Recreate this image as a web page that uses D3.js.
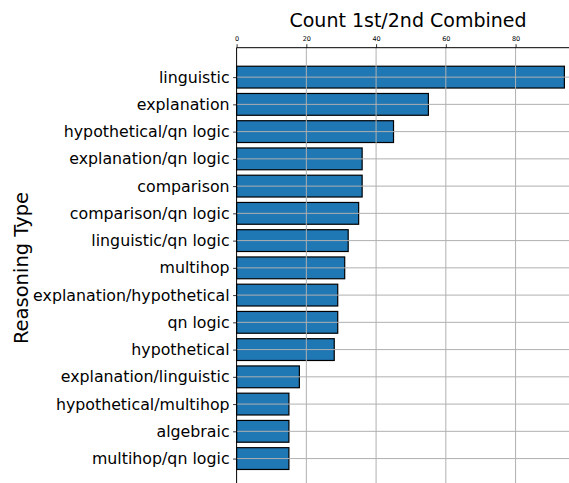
<!DOCTYPE html>
<html><head><meta charset="utf-8">
<script src="https://cdn.jsdelivr.net/npm/d3@7"></script>
<style>body{margin:0;background:#fff;} svg{display:block;font-family:"DejaVu Sans",sans-serif;}</style>
</head><body>
<script>
const categories = ["linguistic","explanation","hypothetical/qn logic","explanation/qn logic","comparison","comparison/qn logic","linguistic/qn logic","multihop","explanation/hypothetical","qn logic","hypothetical","explanation/linguistic","hypothetical/multihop","algebraic","multihop/qn logic"];
const counts = [94,55,45,36,36,35,32,31,29,29,28,18,15,15,15];
const xTicks = [0,20,40,60,80];

const W = 569, H = 483;
const mLeft = 236.6, mTop = 47.7, mRight = 582, mBottom = 488;
const svg = d3.select("body").append("svg").attr("width", W).attr("height", H);

const x = d3.scaleLinear().domain([0, 99.05]).range([mLeft, mRight]);
const y = d3.scaleLinear().domain([-1.08, categories.length - 1 + 1.08]).range([mTop, mBottom]);
const bh = y(0.4) - y(0);

// bars
svg.append("g").selectAll("rect").data(categories).join("rect")
  .attr("x", x(0))
  .attr("y", (d,i) => y(i) - bh)
  .attr("width", (d,i) => x(counts[i]) - x(0))
  .attr("height", bh * 2)
  .attr("fill", "#1f77b4")
  .attr("stroke", "#000").attr("stroke-width", 1.2);

// grid
const g = svg.append("g").attr("stroke", "#b0b0b0").attr("stroke-width", 1);
g.selectAll("line.v").data(xTicks.slice(1)).join("line")
  .attr("x1", d => x(d)).attr("x2", d => x(d)).attr("y1", mTop).attr("y2", H);
g.selectAll("line.h").data(categories).join("line")
  .attr("x1", mLeft).attr("x2", W).attr("y1", (d,i) => y(i)).attr("y2", (d,i) => y(i));

// top axis
const xAxis = d3.axisTop(x).tickValues(xTicks).tickSize(3.5).tickPadding(3).tickFormat(d3.format("d"));
const ax = svg.append("g").attr("transform", `translate(0,${mTop})`).call(xAxis);
ax.select(".domain").remove();
ax.selectAll("text").attr("font-size", 6.5).attr("fill", "#000").attr("font-family", "DejaVu Sans");
ax.selectAll("line").attr("stroke", "#000").attr("stroke-width", 0.8);
svg.append("line").attr("x1", mLeft).attr("x2", W).attr("y1", mTop).attr("y2", mTop).attr("stroke", "#000").attr("stroke-width", 1);

// left axis
const yAxis = d3.axisLeft(y).tickValues(d3.range(categories.length)).tickFormat(i => categories[i]).tickSize(3.5).tickPadding(3.5);
const ay = svg.append("g").attr("transform", `translate(${mLeft},0)`).call(yAxis);
ay.select(".domain").remove();
ay.selectAll("text").attr("font-size", 15.8).attr("fill", "#000").attr("font-family", "DejaVu Sans");
ay.selectAll("line").attr("stroke", "#000").attr("stroke-width", 0.8);
svg.append("line").attr("x1", mLeft).attr("x2", mLeft).attr("y1", mTop).attr("y2", H).attr("stroke", "#000").attr("stroke-width", 1);

// title
svg.append("text").attr("x", 408).attr("y", 27).attr("text-anchor", "middle")
  .attr("font-size", 19).attr("fill", "#000").text("Count 1st/2nd Combined");
// y label
svg.append("text").attr("transform", `translate(28,268) rotate(-90)`).attr("text-anchor", "middle")
  .attr("font-size", 19.5).attr("fill", "#000").text("Reasoning Type");
</script>
</body></html>
